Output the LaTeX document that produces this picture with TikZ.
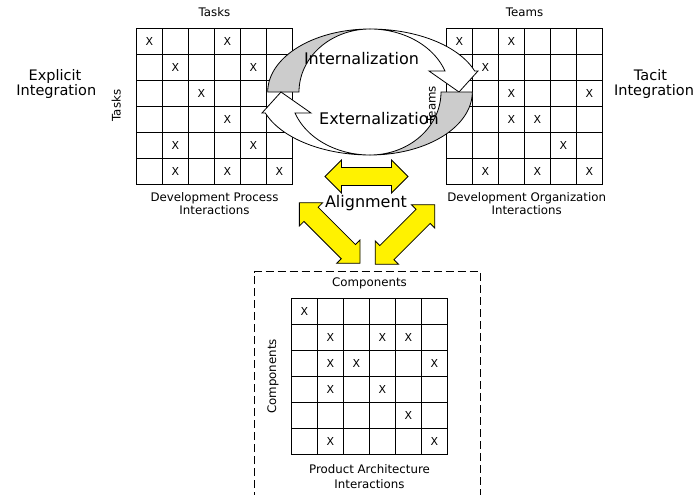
\documentclass[tikz,border=0pt]{standalone}
\usepackage{fontspec}
\setmainfont{DejaVu Sans}
\newcommand{\dsmgrid}[4]{%
  \draw[gridln] (#2,#3) rectangle ({#2+156},{#3+156});
  \foreach \k in {1,...,5}{
    \draw[gridln] ({#2+\k*26},#3) -- ({#2+\k*26},{#3+156});
    \draw[gridln] (#2,{#3+\k*26}) -- ({#2+156},{#3+\k*26});
  }
  \foreach \r/\c in {#4}{
    \node[xmark] (#1-\r-\c) at ({#2+(\c-0.5)*26},{#3+(\r-0.5)*26}) {X};
  }%
}
\newcommand{\ringarrow}{%
  \filldraw[ringpart, fill=gray!40]
    plot[domain=180:90, samples=50] ({370+102.3*cos(\x)},{92-63*sin(\x)})
    -- plot[domain=90:180, samples=50] ({370+71*cos(\x)},{92-63*sin(\x)}) -- cycle;
  \filldraw[ringpart, fill=white]
    plot[domain=90:19.47, samples=50] ({370+111*cos(\x)},{92-63*sin(\x)})
    -- (478,71) -- (459,92) -- (429,71)
    -- plot[domain=19.47:90, samples=50] ({370+79.5*cos(\x)},{92-63*sin(\x)}) -- cycle;
}
% name, cx, cy, angle, half-length, shaft half-width
\newcommand{\yarrow}[6]{%
  \begin{scope}[shift={(#2,#3)}, rotate=#4]
    \filldraw[yarr] (-#5,0) -- ({-#5+16.5},-16.5) -- ({-#5+16.5},-#6) -- ({#5-16.5},-#6)
      -- ({#5-16.5},-16.5) -- (#5,0) -- ({#5-16.5},16.5) -- ({#5-16.5},#6)
      -- ({-#5+16.5},#6) -- ({-#5+16.5},16.5) -- cycle;
    \coordinate (#1) at (0,0);
  \end{scope}%
}
\begin{document}
\begin{tikzpicture}[x=1pt,y=-1pt,
  lbl/.style={font=\fontsize{11.8}{13}\selectfont, inner sep=0, anchor=base},
  biglbl/.style={font=\fontsize{16}{18}\selectfont, inner sep=0, anchor=base},
  sidelbl/.style={font=\fontsize{14.5}{16}\selectfont, inner sep=0, anchor=base},
  xmark/.style={font=\fontsize{11}{12}\selectfont, inner sep=0},
  gridln/.style={line width=1.2pt},
  ringpart/.style={draw=black, line width=0.8pt, line join=miter},
  yarr/.style={draw=black, fill=yellow, line width=0.8pt, line join=miter},
  dashbox/.style={draw=black, line width=1pt, dash pattern=on 8pt off 4pt}]
\useasboundingbox (0,0) rectangle (696,495);

% side labels
\node[sidelbl] (explicit1) at (55,80.5) {Explicit};
\node[sidelbl] (explicit2) at (56.3,95.5) {Integration};
\node[sidelbl] (tacit1) at (650.5,80.5) {Tacit};
\node[sidelbl] (tacit2) at (654,95.5) {Integration};

% grids
\dsmgrid{L}{136.5}{28.5}{1/1,1/4,2/2,2/5,3/3,4/4,5/2,5/5,6/2,6/4,6/6}
\dsmgrid{R}{446.5}{28.5}{1/1,1/3,2/2,3/3,3/6,4/3,4/4,5/5,6/2,6/4,6/6}
\dsmgrid{B}{291.5}{298.5}{1/1,2/2,2/4,2/5,3/2,3/3,3/6,4/2,4/4,5/5,6/2,6/6}

% grid labels
\node[lbl] (tasksTop) at (214.5,16.7) {Tasks};
\node[lbl] (teamsTop) at (524.5,16.7) {Teams};
\node[lbl, anchor=center, rotate=90] (tasksSide) at (116.2,105.6) {Tasks};
\node[lbl, anchor=center, rotate=90] (teamsSide) at (431.5,104.7) {Teams};
\node[lbl] (dp1) at (214.5,201.5) {Development Process};
\node[lbl] (dp2) at (214.5,214.5) {Interactions};
\node[lbl] (do1) at (526.7,201.5) {Development Organization};
\node[lbl] (do2) at (526.7,214.5) {Interactions};
\node[lbl] (compTop) at (369.5,286.7) {Components};
\node[lbl, anchor=center, rotate=90] (compSide) at (273,376.5) {Components};
\node[lbl] (pa1) at (369.5,473) {Product Architecture};
\node[lbl] (pa2) at (369.5,488) {Interactions};

% dashed box
\draw[dashbox] (254,500) -- (254,271.5) -- (480,271.5) -- (480,500);

% ring arrows
\ringarrow
\begin{scope}[rotate around={180:(370,92)}]
  \ringarrow
\end{scope}
\node[biglbl] (intern) at (361.5,65) {Internalization};
\node[biglbl] (extern) at (379,124) {Externalization};

% alignment arrows
\yarrow{alignH}{366.5}{176.5}{0}{41.5}{9}
\yarrow{alignL}{329.7}{233}{-45}{42.9}{10}
\yarrow{alignR}{405}{234.5}{45}{42.1}{10}
\node[biglbl] (align) at (366,207.7) {Alignment};
\end{tikzpicture}
\end{document}
